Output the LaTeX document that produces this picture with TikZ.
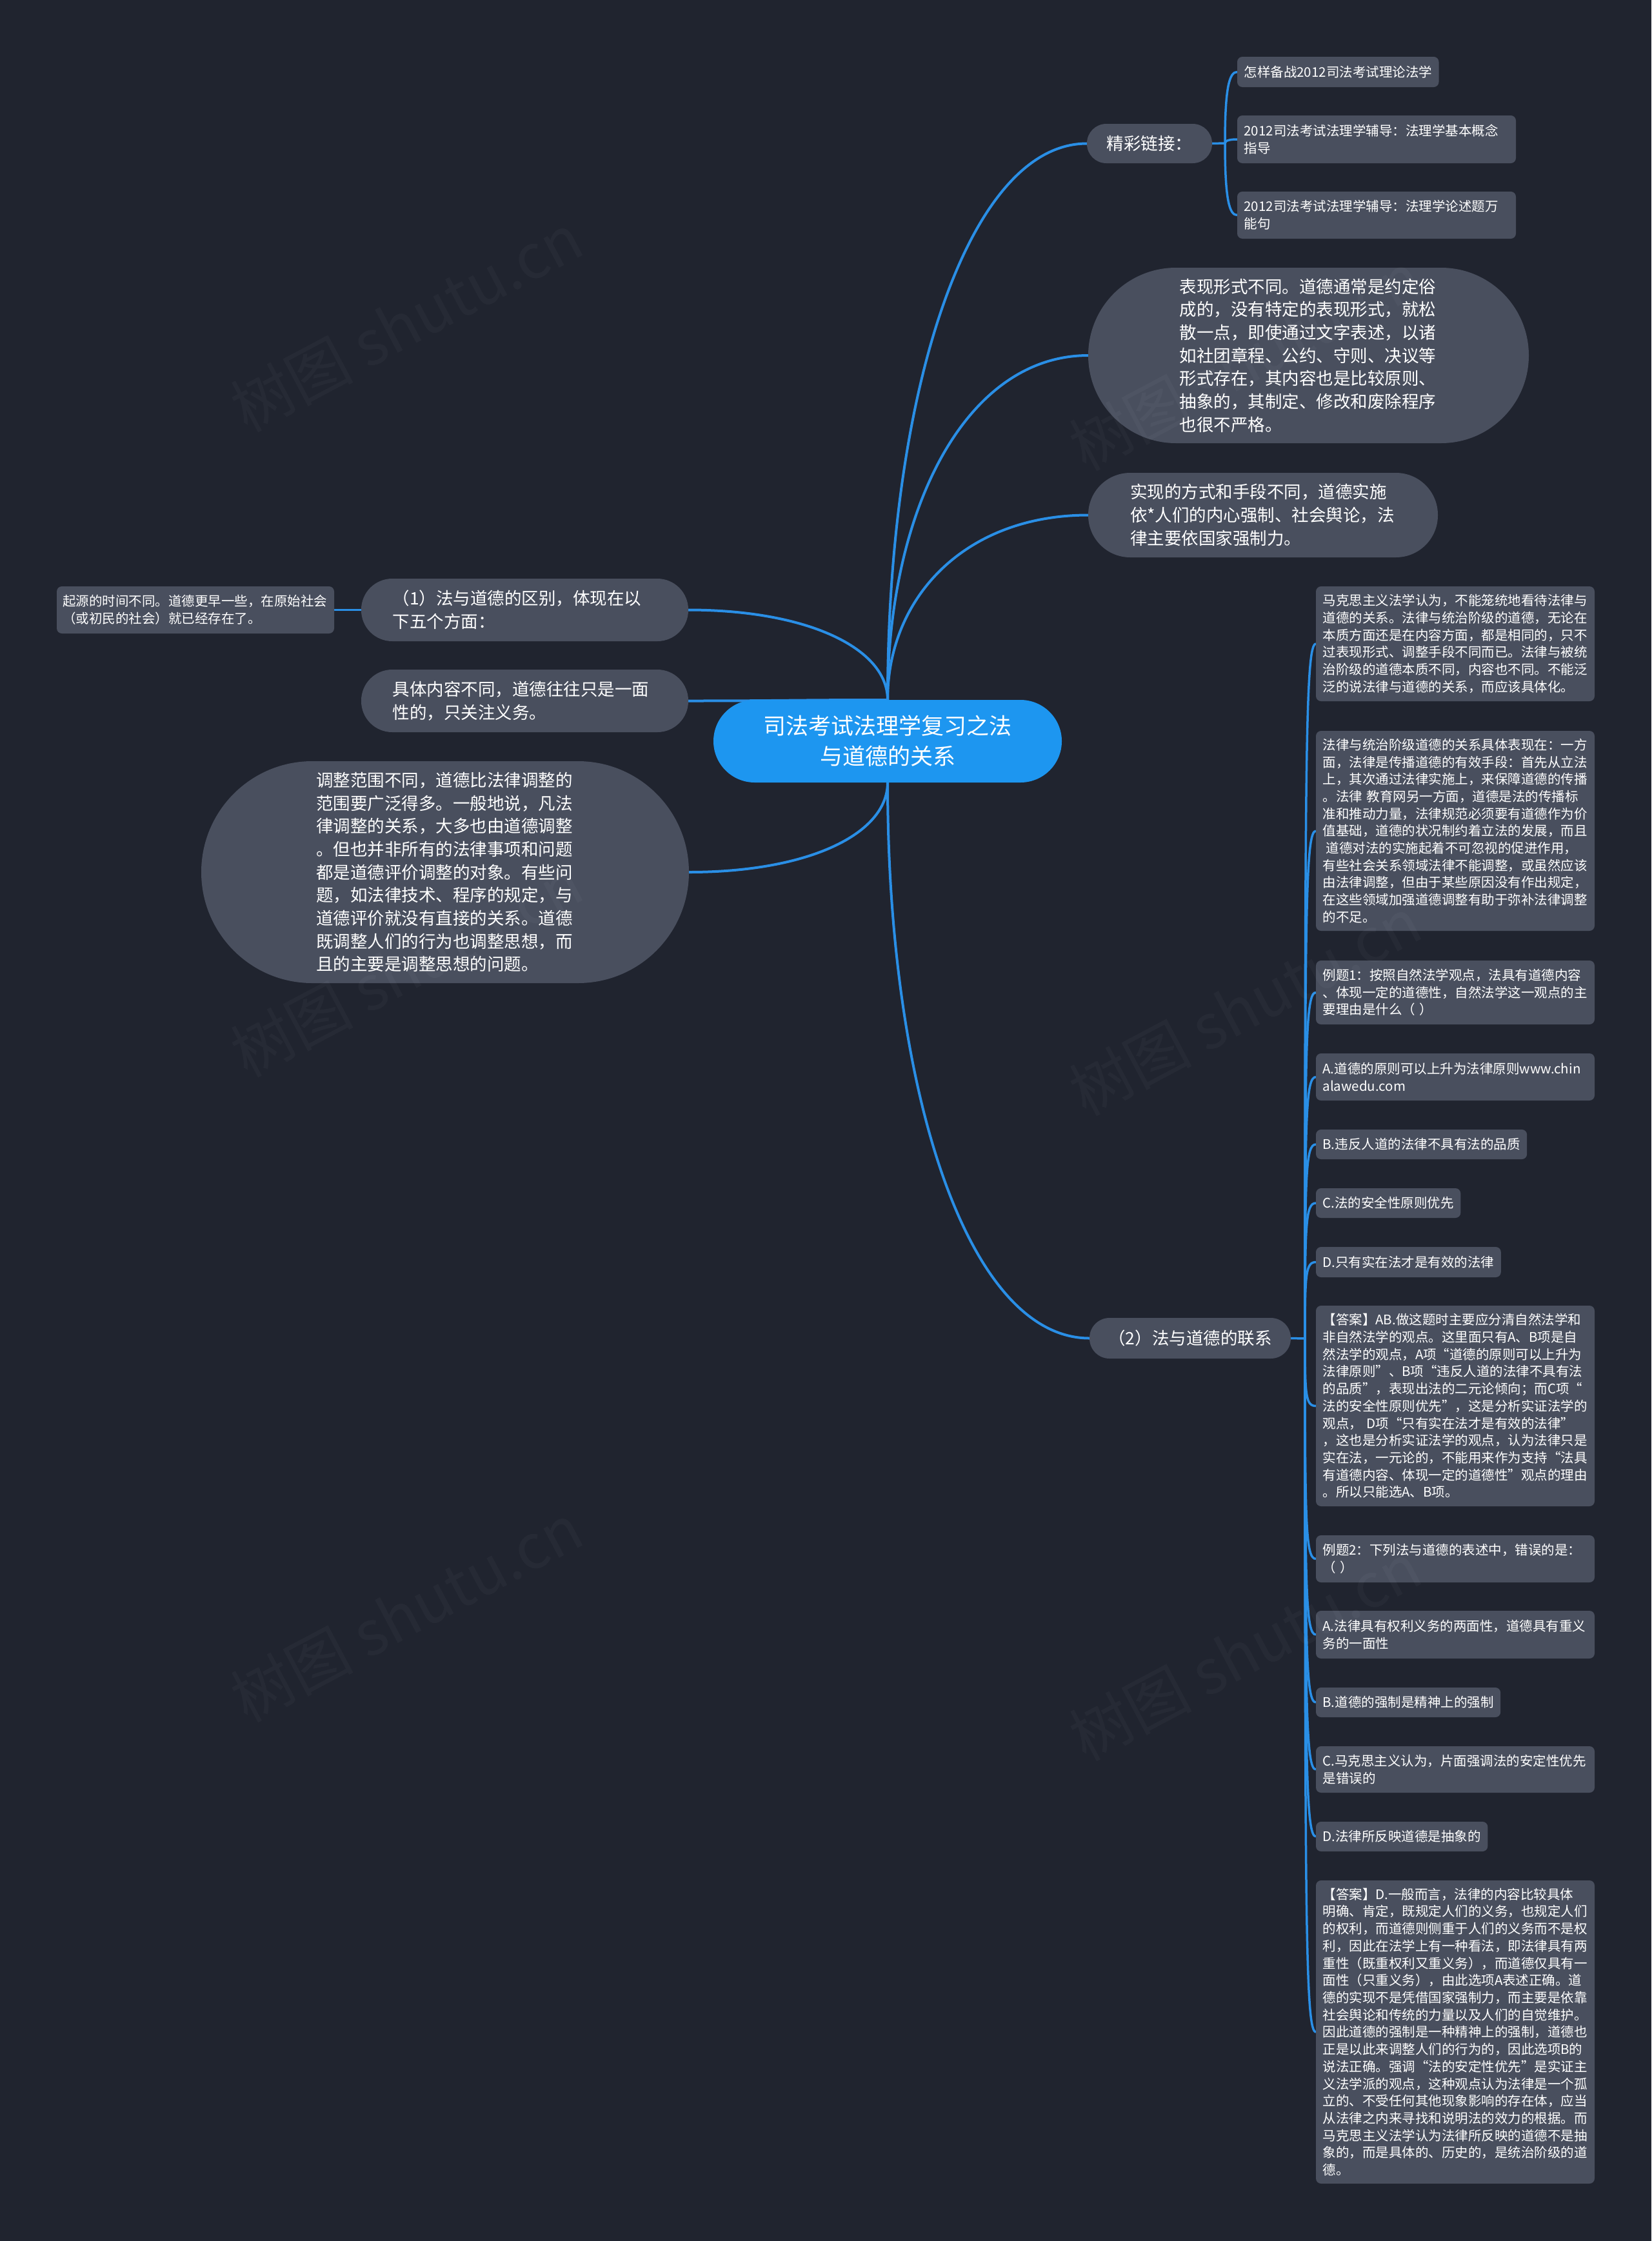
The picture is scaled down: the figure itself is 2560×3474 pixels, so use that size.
\documentclass[tikz,border=0pt]{standalone}
\usepackage{fontspec}
\setmainfont{Noto Sans CJK SC}
\definecolor{bgc}{HTML}{20242F}
\definecolor{nodec}{HTML}{494F5E}
\definecolor{linec}{HTML}{2A8FE6}
\definecolor{centc}{HTML}{1D96F0}
\pgfdeclarelayer{bg}
\pgfsetlayers{bg,main}
\begin{document}
\begin{tikzpicture}[x=1pt,y=-1pt,
  every node/.style={inner sep=0pt, outer sep=0pt},
  pill/.style={fill=nodec, text=white, align=left, anchor=north west,
    font=\fontsize{26.5}{35.7}\selectfont},
  small/.style={fill=nodec, text=white, rounded corners=8pt, anchor=north west,
    font=\fontsize{20.5}{26.7}\selectfont, inner xsep=10.5pt, inner ysep=0pt, align=left},
  smallw/.style={small, text width=411pt},
  mainline/.style={draw=linec, line width=4pt},
  subline/.style={draw=linec, line width=3.5pt},
  wm/.style={text=white, text opacity=0.03, font=\fontsize{95}{95}\selectfont, rotate=28}
]
\useasboundingbox (0,0) rectangle (2560,3474);

% ---------- centre ----------
\node[pill, fill=centc, minimum width=540pt, minimum height=128pt, rounded corners=64pt,
  align=center, font=\fontsize{35}{47}\selectfont] (c) at (1106,1085)
  {司法考试法理学复习之法\\与道德的关系};

% ---------- links branch ----------
\node[pill, minimum width=194pt, minimum height=61pt, rounded corners=30pt, align=center] (lk) at (1685,192) {精彩链接：};
\coordinate (j1) at (1899,222);
\node[small, minimum height=47pt] (l1) at (1918,88) {怎样备战2012司法考试理论法学};
\node[smallw, minimum height=74pt] (l2) at (1918,179) {2012司法考试法理学辅导：法理学基本概念\\指导};
\node[smallw, minimum height=73pt] (l3) at (1918,297) {2012司法考试法理学辅导：法理学论述题万\\能句};

% ---------- right pills ----------
\node[pill, minimum width=683pt, minimum height=272pt, rounded corners=136pt, text width=400pt] (bx) at (1687,415)
  {表现形式不同。道德通常是约定俗\\成的，没有特定的表现形式，就松\\散一点，即使通过文字表述，以诸\\如社团章程、公约、守则、决议等\\形式存在，其内容也是比较原则、\\抽象的，其制定、修改和废除程序\\也很不严格。};
\node[pill, minimum width=542pt, minimum height=131pt, rounded corners=65pt, text width=412pt] (sx) at (1687,733)
  {实现的方式和手段不同，道德实施\\依*人们的内心强制、社会舆论，法\\律主要依国家强制力。};

% ---------- left side ----------
\node[pill, minimum width=507pt, minimum height=97pt, rounded corners=48pt, text width=410pt] (d1) at (560,897)
  {（1）法与道德的区别，体现在以\\下五个方面：};
\node[small, text width=412pt, inner xsep=9pt, minimum height=73pt] (qy) at (88,909)
  {起源的时间不同。道德更早一些，在原始社会\\（或初民的社会）就已经存在了。};
\node[pill, minimum width=507pt, minimum height=97pt, rounded corners=48pt, text width=410pt] (jt) at (560,1038)
  {具体内容不同，道德往往只是一面\\性的，只关注义务。};
\node[pill, minimum width=756pt, minimum height=344pt, rounded corners=172pt, text width=400pt] (tz) at (312,1180)
  {调整范围不同，道德比法律调整的\\范围要广泛得多。一般地说，凡法\\律调整的关系，大多也由道德调整\\。但也并非所有的法律事项和问题\\都是道德评价调整的对象。有些问\\题，如法律技术、程序的规定，与\\道德评价就没有直接的关系。道德\\既调整人们的行为也调整思想，而\\且的主要是调整思想的问题。};

% ---------- (2) branch ----------
\node[pill, minimum width=312pt, minimum height=63pt, rounded corners=31pt, align=center] (lx) at (1689,2043) {（2）法与道德的联系};
\coordinate (j2) at (2023,2075);

\node[smallw, minimum height=178pt] (k1) at (2040,909)
  {马克思主义法学认为，不能笼统地看待法律与\\道德的关系。法律与统治阶级的道德，无论在\\本质方面还是在内容方面，都是相同的，只不\\过表现形式、调整手段不同而已。法律与被统\\治阶级的道德本质不同，内容也不同。不能泛\\泛的说法律与道德的关系，而应该具体化。};
\node[smallw, minimum height=310pt] (k2) at (2040,1133)
  {法律与统治阶级道德的关系具体表现在：一方\\面，法律是传播道德的有效手段：首先从立法\\上，其次通过法律实施上，来保障道德的传播\\。法律~教育网另一方面，道德是法的传播标\\准和推动力量，法律规范必须要有道德作为价\\值基础，道德的状况制约着立法的发展，而且\\\hspace*{5pt}道德对法的实施起着不可忽视的促进作用，\\有些社会关系领域法律不能调整，或虽然应该\\由法律调整，但由于某些原因没有作出规定，\\在这些领域加强道德调整有助于弥补法律调整\\的不足。};
\node[smallw, minimum height=99pt] (k3) at (2040,1489)
  {例题1：按照自然法学观点，法具有道德内容\\、体现一定的道德性，自然法学这一观点的主\\要理由是什么（ ）};
\node[smallw, minimum height=73pt] (k4) at (2040,1633)
  {A.道德的原则可以上升为法律原则www.chin\\alawedu.com};
\node[small, minimum height=46pt] (k5) at (2040,1751) {B.违反人道的法律不具有法的品质};
\node[small, minimum height=46pt] (k6) at (2040,1842) {C.法的安全性原则优先};
\node[small, minimum height=47pt] (k7) at (2040,1933) {D.只有实在法才是有效的法律};
\node[smallw, minimum height=311pt] (k8) at (2040,2024)
  {【答案】AB.做这题时主要应分清自然法学和\\非自然法学的观点。这里面只有A、B项是自\\然法学的观点，A项“道德的原则可以上升为\\法律原则”、B项“违反人道的法律不具有法\\的品质”，表现出法的二元论倾向；而C项“\\法的安全性原则优先”，这是分析实证法学的\\观点，~D项“只有实在法才是有效的法律”\\，这也是分析实证法学的观点，认为法律只是\\实在法，一元论的，不能用来作为支持“法具\\有道德内容、体现一定的道德性”观点的理由\\。所以只能选A、B项。};
\node[smallw, minimum height=73pt] (k9) at (2040,2380)
  {例题2：下列法与道德的表述中，错误的是：\\（ ）};
\node[smallw, minimum height=74pt] (k10) at (2040,2497)
  {A.法律具有权利义务的两面性，道德具有重义\\务的一面性};
\node[small, minimum height=46pt] (k11) at (2040,2616) {B.道德的强制是精神上的强制};
\node[smallw, minimum height=72pt] (k12) at (2040,2707)
  {C.马克思主义认为，片面强调法的安定性优先\\是错误的};
\node[small, minimum height=46pt] (k13) at (2040,2824) {D.法律所反映道德是抽象的};
\node[smallw, minimum height=470pt] (k14) at (2040,2915)
  {【答案】D.一般而言，法律的内容比较具体\\明确、肯定，既规定人们的义务，也规定人们\\的权利，而道德则侧重于人们的义务而不是权\\利，因此在法学上有一种看法，即法律具有两\\重性（既重权利又重义务），而道德仅具有一\\面性（只重义务），由此选项A表述正确。道\\德的实现不是凭借国家强制力，而主要是依靠\\社会舆论和传统的力量以及人们的自觉维护。\\因此道德的强制是一种精神上的强制，道德也\\正是以此来调整人们的行为的，因此选项B的\\说法正确。强调“法的安定性优先”是实证主\\义法学派的观点，这种观点认为法律是一个孤\\立的、不受任何其他现象影响的存在体，应当\\从法律之内来寻找和说明法的效力的根据。而\\马克思主义法学认为法律所反映的道德不是抽\\象的，而是具体的、历史的，是统治阶级的道\\德。};

% ---------- watermark ----------
\node[wm] (w1) at (630,500) {树图 shutu.cn};
\node[wm] (w2) at (1930,560) {树图 shutu.cn};
\node[wm] (w3) at (630,1500) {树图 shutu.cn};
\node[wm] (w4) at (1930,1560) {树图 shutu.cn};
\node[wm] (w5) at (630,2500) {树图 shutu.cn};
\node[wm] (w6) at (1930,2560) {树图 shutu.cn};

% ---------- connectors ----------
\begin{pgfonlayer}{bg}
\fill[bgc] (0,0) rectangle (2560,3474);
\path[mainline] (c.north) .. controls +(0,-475) and +(-185,0) .. (lk.west);
\path[mainline] (c.north) .. controls +(0,-295) and +(-190,0) .. (bx.west);
\path[mainline] (c.north) .. controls +(0,-160) and +(-190,0) .. (sx.west);
\path[mainline] (c.north) .. controls +(0,-80) and +(185,0) .. (d1.east);
\path[mainline] (c.north) .. controls +(-150,0) and +(150,0) .. (jt.east);
\path[mainline] (c.south) .. controls +(0,80) and +(185,0) .. (tz.east);
\path[mainline] (c.south) .. controls +(0,475) and +(-190,0) .. (lx.west);
\path[subline] (qy.east) -- (d1.west);
% links
\path[subline] (lk.east) -- (j1);
\path[subline] (j1) .. controls +(0,-88) and +(-12,0) .. (l1.west);
\path[subline] (j1) .. controls +(0,-5) and +(-8,0) .. (l2.west);
\path[subline] (j1) .. controls +(0,89) and +(-12,0) .. (l3.west);
% (2) children
\path[subline] (lx.east) -- (j2);
\path[subline] (j2) .. controls +(0,-915) and +(-16,0) .. (k1.west);
\path[subline] (j2) .. controls +(0,-669) and +(-16,0) .. (k2.west);
\path[subline] (j2) .. controls +(0,-456) and +(-16,0) .. (k3.west);
\path[subline] (j2) .. controls +(0,-344) and +(-16,0) .. (k4.west);
\path[subline] (j2) .. controls +(0,-256) and +(-16,0) .. (k5.west);
\path[subline] (j2) .. controls +(0,-179) and +(-16,0) .. (k6.west);
\path[subline] (j2) .. controls +(0,-100) and +(-16,0) .. (k7.west);
\path[subline] (j2) .. controls +(0,88) and +(-16,0) .. (k8.west);
\path[subline] (j2) .. controls +(0,290) and +(-16,0) .. (k9.west);
\path[subline] (j2) .. controls +(0,390) and +(-16,0) .. (k10.west);
\path[subline] (j2) .. controls +(0,479) and +(-16,0) .. (k11.west);
\path[subline] (j2) .. controls +(0,568) and +(-16,0) .. (k12.west);
\path[subline] (j2) .. controls +(0,655) and +(-16,0) .. (k13.west);
\path[subline] (j2) .. controls +(0,914) and +(-16,0) .. (k14.west);
\end{pgfonlayer}
\end{tikzpicture}
\end{document}
